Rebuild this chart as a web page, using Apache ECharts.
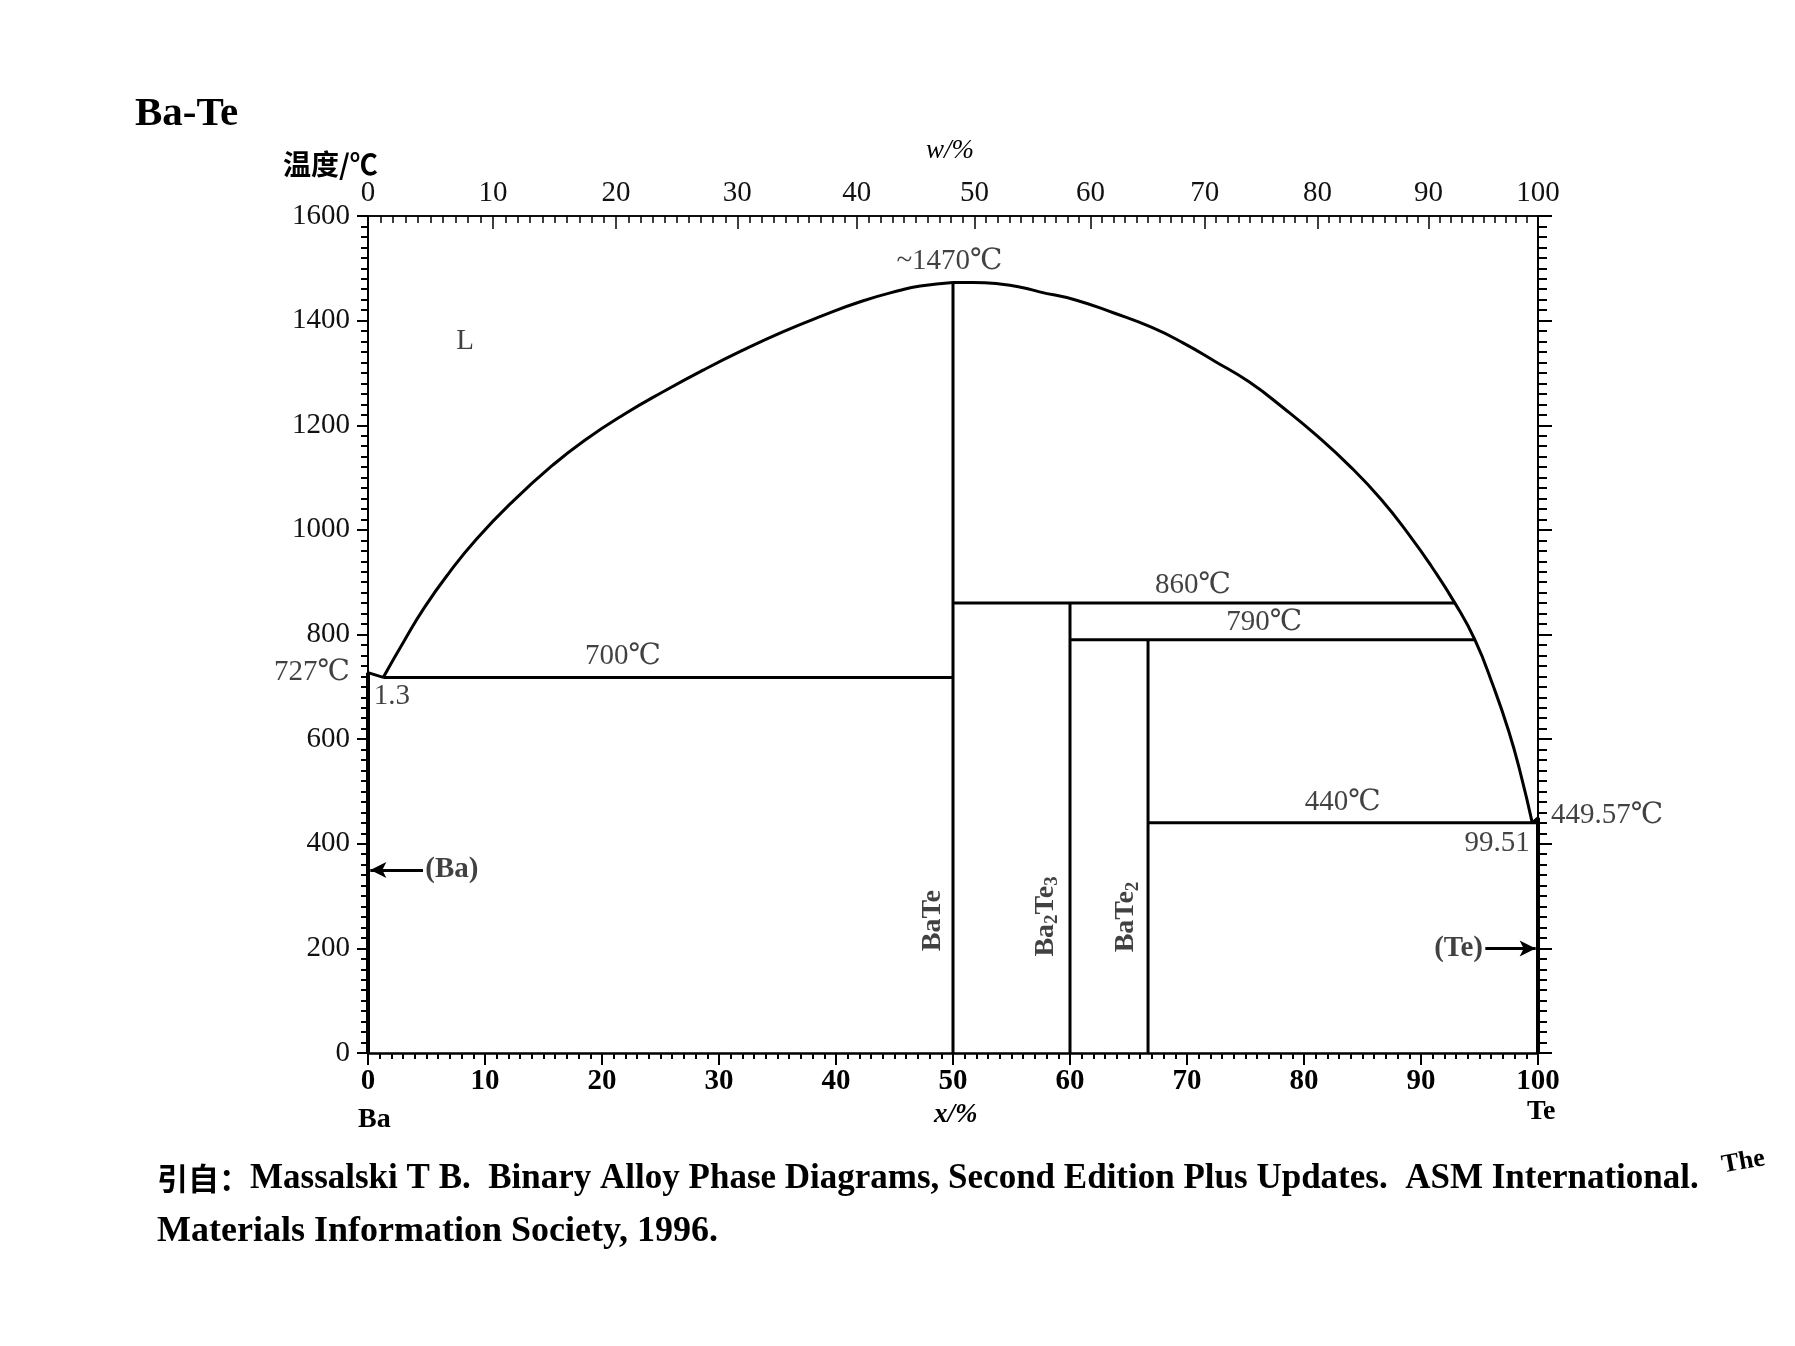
<!DOCTYPE html>
<html><head><meta charset="utf-8">
<script src="https://cdn.jsdelivr.net/npm/echarts@6/dist/echarts.min.js"></script>
<style>html,body{margin:0;padding:0;background:#fff}#c{width:1795px;height:1346px}</style>
</head><body><div id="c"></div>
<script>
// ---------- data (x = at.% Te, T = °C) ----------
const xTickLabels = [0,10,20,30,40,50,60,70,80,90,100];
const tTickLabels = [0,200,400,600,800,1000,1200,1400,1600];
const wTickLabels = [0,10,20,30,40,50,60,70,80,90,100];   // top axis, wt.% Te
const massBa = 137.33, massTe = 127.60;                    // for w% -> x% axis mapping

const baMelt = [[0,727],[1.3,718]];
const liquidusLeft = [[1.3,718],[3.1,788],[4.8,851],[6.9,917],[9.3,983],[12.4,1055],[15.8,1124],
  [18.5,1171],[21.9,1221],[25.3,1265],[28.7,1306],[32.0,1343],[35.4,1378],[38.8,1409],
  [42.2,1437],[45.5,1458],[47.2,1466],[50,1473]];
const liquidusRight = [[50,1473],[51.7,1473],[54.0,1470],[56.0,1463],[57.4,1455],[60.4,1440],
  [63.7,1415],[67.0,1387],[69.7,1357],[72.4,1322],[75.3,1283],[78.3,1232],[81.0,1182],
  [84.0,1120],[86.6,1058],[89.0,990],[90.9,930],[92.9,860],[94.6,790],[96.2,700],
  [97.5,615],[98.5,535],[99.51,440]];
const teMelt = [[99.51,440],[100,449.57]];
const eutectic700 = [[1.3,718],[50,718]];
const peritectic860 = [[50,860],[92.9,860]];
const peritectic790 = [[60,790],[94.6,790]];
const eutectic440 = [[66.67,440],[100,440]];
const lineBaTe = [[50,0],[50,1473]];
const lineBa2Te3 = [[60,0],[60,860]];
const lineBaTe2 = [[66.67,0],[66.67,790]];
const solidBa = [[0,0],[0,727]];
const solidTe = [[100,0],[100,449.57]];

// annotations: text at data coordinates
const annotations = [
  {t:'~1470℃', p:[49.7,1514]},
  {t:'L', p:[8.3,1360]},
  {t:'700℃', p:[21.8,759]},
  {t:'860℃', p:[70.5,894]},
  {t:'790℃', p:[76.6,823]},
  {t:'440℃', p:[83.3,479]},
  {t:'99.51', p:[96.5,401]}
];

// ---------- helpers ----------
function wToX(w){ const a=w/massTe, b=(100-w)/massBa; return a/(a+b)*100; }
const topMajor = wTickLabels.map(wToX);
const topMinor = [];
for (let w=0; w<=100; w++){ if (w%10!==0) topMinor.push(wToX(w)); }

const SERIF = '"Liberation Serif","DejaVu Serif",serif';
const chart = echarts.init(document.getElementById('c'), null, {renderer:'canvas'});

function lineSeries(name, data, width, smooth){
  return {type:'line', name, data, xAxisIndex:0, yAxisIndex:0, symbol:'none', smooth: smooth||false,
    clip:false, lineStyle:{color:'#000', width:width}, z:3, silent:true, animation:false};
}

const annoSeries = {
  type:'scatter', xAxisIndex:0, yAxisIndex:0, symbolSize:0, silent:true, animation:false, z:5,
  data: annotations.map(a=>({value:a.p, label:{formatter:a.t}})),
  label:{show:true, position:'inside', color:'#111', fontFamily:SERIF, fontSize:29}
};

const rich = {
  a:{fontFamily:SERIF, fontSize:28, fontWeight:'bold', color:'#111'},
  s:{fontFamily:SERIF, fontSize:19, fontWeight:'bold', color:'#111', padding:[14,0,0,0]}
};
const phaseSeries = {
  type:'scatter', xAxisIndex:0, yAxisIndex:0, symbolSize:0, silent:true, animation:false, z:5,
  data:[
    {value:[48.3,253], label:{formatter:'{a|BaTe}'}},
    {value:[57.9,261], label:{formatter:'{a|Ba}{s|2}{a|Te}{s|3}'}},
    {value:[64.8,260], label:{formatter:'{a|BaTe}{s|2}'}}
  ],
  label:{show:true, position:'inside', rotate:90, rich}
};

const edgeSeries = {
  type:'scatter', xAxisIndex:0, yAxisIndex:0, symbolSize:0, silent:true, animation:false, z:5,
  data:[
    {value:[0,727], label:{formatter:'727℃', position:'left', distance:18}},
    {value:[0.5,682], label:{formatter:'1.3', position:'right', distance:0}},
    {value:[100,455], label:{formatter:'449.57℃', position:'right', distance:13}},
    {value:[4.9,350], label:{formatter:'(Ba)', position:'right', distance:0, fontWeight:'bold'}},
    {value:[95.3,200], label:{formatter:'(Te)', position:'left', distance:0, fontWeight:'bold'}}
  ],
  label:{show:true, color:'#111', fontFamily:SERIF, fontSize:29}
};

const arrowSeries = {
  type:'line', xAxisIndex:0, yAxisIndex:0, data:[], silent:true, animation:false,
  markLine:{silent:true, animation:false, symbol:['none','arrow'], symbolSize:[12,16], label:{show:false},
    lineStyle:{color:'#000', width:3, type:'solid'},
    data:[
      [{coord:[4.7,350]},{coord:[0.2,350]}],
      [{coord:[95.5,200]},{coord:[99.8,200]}]
    ]}
};

const G = {left:368, right:257, top:216, bottom:293, containLabel:false};
const option = {
  animation:false,
  backgroundColor:'#fff',
  grid:[Object.assign({}, G), Object.assign({}, G)],
  xAxis:[
    {type:'value', gridIndex:0, position:'bottom', min:0, max:100, interval:10,
      axisLine:{show:true, onZero:false, lineStyle:{color:'#000', width:2.5}},
      axisTick:{show:true, inside:false, length:12, lineStyle:{color:'#000', width:2}},
      minorTick:{show:true, splitNumber:10, length:6, lineStyle:{color:'#000', width:2}},
      axisLabel:{show:true, margin:14, color:'#000', fontFamily:SERIF, fontSize:29, fontWeight:'bold',
        formatter:(v)=>{ const i=xTickLabels.indexOf(Math.round(v)); return i>=0? String(xTickLabels[i]):''; }},
      splitLine:{show:false}},
    {type:'value', gridIndex:0, position:'top', min:0, max:100,
      axisLine:{show:true, onZero:false, lineStyle:{color:'#000', width:1.5}},
      axisTick:{show:true, inside:true, length:13, customValues:topMajor, lineStyle:{color:'#000', width:1.5}},
      axisLabel:{show:true, margin:8, color:'#111', fontFamily:SERIF, fontSize:29, customValues:topMajor,
        formatter:(v)=>{ let best=0, d=1e9; topMajor.forEach((p,i)=>{ if(Math.abs(p-v)<d){d=Math.abs(p-v);best=i;} }); return String(wTickLabels[best]); }},
      splitLine:{show:false}},
    {type:'value', gridIndex:1, position:'top', min:0, max:100,
      axisLine:{show:true, onZero:false, lineStyle:{color:'#000', width:1.5}},
      axisTick:{show:true, inside:true, length:7, customValues:topMinor, lineStyle:{color:'#000', width:1.5}},
      axisLabel:{show:false}, splitLine:{show:false}}
  ],
  yAxis:[
    {type:'value', gridIndex:0, position:'left', min:0, max:1600, interval:200,
      axisLine:{show:true, onZero:false, lineStyle:{color:'#000', width:2}},
      axisTick:{show:true, inside:false, length:11, lineStyle:{color:'#000', width:2}},
      minorTick:{show:true, splitNumber:10, length:7, lineStyle:{color:'#000', width:2}},
      axisLabel:{show:true, margin:18, color:'#111', fontFamily:SERIF, fontSize:29,
        formatter:(v)=>{ const i=tTickLabels.indexOf(Math.round(v)); return i>=0? String(tTickLabels[i]):''; }},
      splitLine:{show:false}},
    {type:'value', gridIndex:0, position:'right', min:0, max:1600, interval:200,
      axisLine:{show:true, onZero:false, lineStyle:{color:'#000', width:2}},
      axisTick:{show:true, inside:false, length:14, lineStyle:{color:'#000', width:2}},
      minorTick:{show:true, splitNumber:10, length:9, lineStyle:{color:'#000', width:2}},
      axisLabel:{show:false}, splitLine:{show:false}},
    {type:'value', gridIndex:1, min:0, max:1600, show:false}
  ],
  series:[
    lineSeries('baMelt', baMelt, 3),
    lineSeries('liqL', liquidusLeft, 3, 0.5),
    lineSeries('liqR', liquidusRight, 3, 0.5),
    lineSeries('teMelt', teMelt, 3),
    lineSeries('e700', eutectic700, 3),
    lineSeries('p860', peritectic860, 3),
    lineSeries('p790', peritectic790, 3),
    lineSeries('e440', eutectic440, 3),
    lineSeries('BaTe', lineBaTe, 3),
    lineSeries('Ba2Te3', lineBa2Te3, 3),
    lineSeries('BaTe2', lineBaTe2, 3),
    lineSeries('solBa', solidBa, 4),
    lineSeries('solTe', solidTe, 4),
    annoSeries, phaseSeries, edgeSeries, arrowSeries
  ],
  graphic:[
    {type:'text', left:135, top:94, style:{text:'Ba-Te', font:'bold 41px '+SERIF, fill:'#000'}},
    {type:'text', left:283, top:150, style:{text:'温度/℃', font:'bold 28px "Noto Sans CJK SC", sans-serif', fill:'#000'}},
    {type:'text', left:926, top:137, style:{text:'w/%', font:'italic 27px '+SERIF, fill:'#000'}},
    {type:'text', left:934, top:1102, style:{text:'x/%', font:'italic bold 27px '+SERIF, fill:'#000'}},
    {type:'text', left:358, top:1106, style:{text:'Ba', font:'bold 28px '+SERIF, fill:'#000'}},
    {type:'text', left:1527, top:1098, style:{text:'Te', font:'bold 28px '+SERIF, fill:'#000'}},
    {type:'text', left:157, top:1163, style:{text:'引自：', font:'bold 31px "Noto Sans CJK SC", sans-serif', fill:'#000'}},
    {type:'text', left:250, top:1161, style:{text:'Massalski T B.  Binary Alloy Phase Diagrams, Second Edition Plus Updates.  ASM International.', font:'bold 35px '+SERIF, fill:'#000'}},
    {type:'text', x:1722, y:1166, rotation:0.18, style:{text:'The', font:'bold 26px '+SERIF, fill:'#000', align:'left', verticalAlign:'middle'}},
    {type:'text', left:157, top:1214, style:{text:'Materials Information Society, 1996.', font:'bold 36px '+SERIF, fill:'#000'}}
  ]
};
chart.setOption(option);
</script></body></html>
